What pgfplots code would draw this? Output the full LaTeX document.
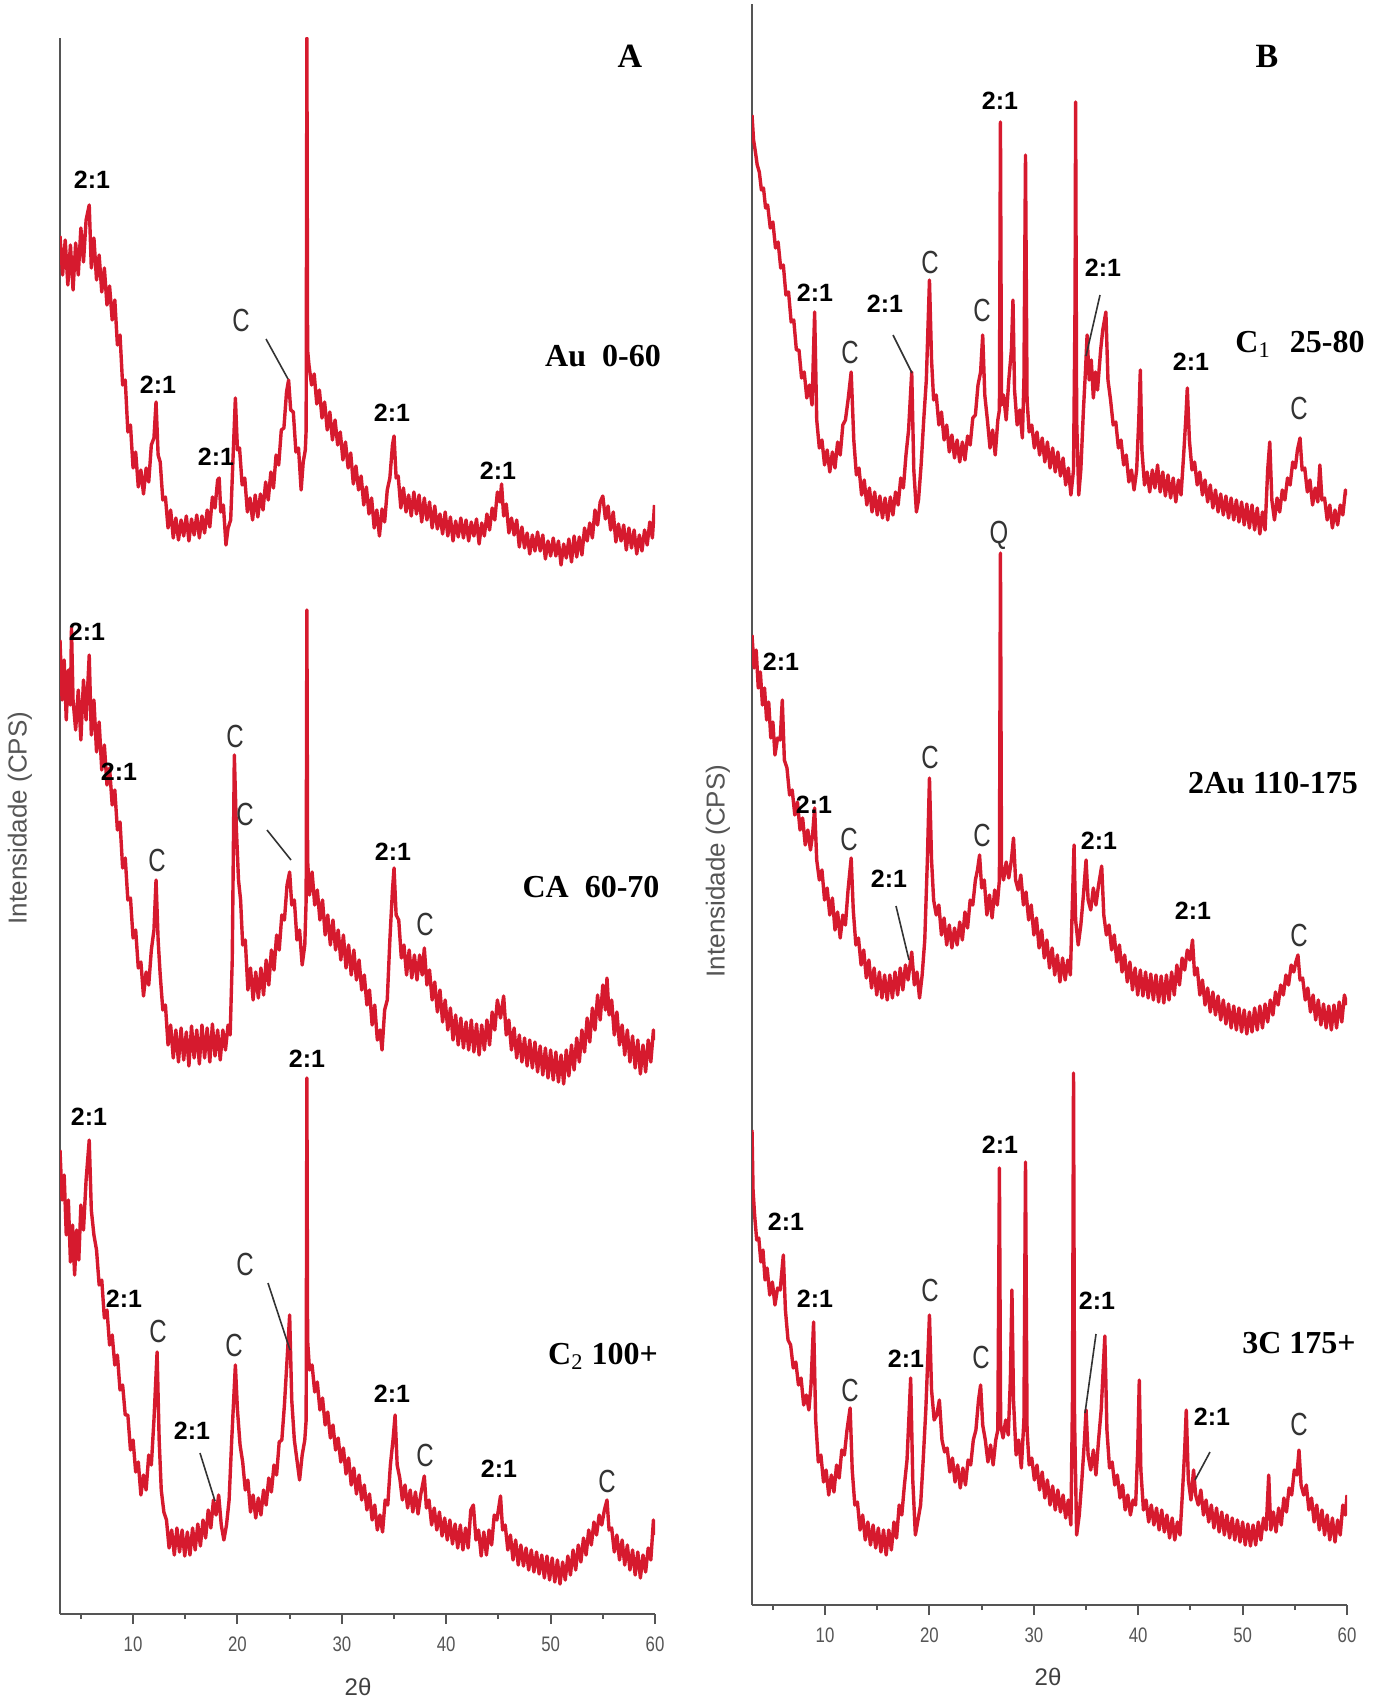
\documentclass[border=0pt]{standalone}
\usepackage{fontspec}
\setmainfont{Liberation Sans}
\newfontfamily\tnr{Liberation Serif}
\usepackage{pgfplots}
\pgfplotsset{compat=1.18}

\definecolor{xrd}{RGB}{214,26,46}
\definecolor{axgray}{RGB}{85,85,85}

\pgfplotsset{
  xrdaxis/.style={
    scale only axis, width=297.5pt,
    xmin=3, xmax=60,
    axis x line=bottom, axis y line=left,
    axis line style={-, draw=axgray, line width=1.2pt},
    xtick={10,20,...,60}, minor xtick={5,15,...,55},
    ytick=\empty,
    tick align=outside,
    major tick length=5pt, minor tick length=2.5pt,
    every tick/.style={draw=axgray, line width=1pt},
    /pgf/number format/assume math mode=true,
    xticklabel style={font=\fontsize{10.5}{12}\selectfont, text=axgray, xscale=0.8, yshift=-3pt},
  },
  trace/.style={draw=xrd, line width=1.7pt, line join=round, mark=none},
}

\tikzset{
  lab/.style={font=\bfseries\fontsize{12.5}{14}\selectfont, inner sep=0pt},
  cl/.style={font=\fontsize{16}{18}\selectfont, text=black!80, xscale=0.75, inner sep=0pt},
  smp/.style={font=\tnr\bfseries\fontsize{16}{18}\selectfont, inner sep=0pt},
  ldr/.style={draw=black!80, line width=0.8pt},
}

\begin{document}
\begin{tikzpicture}
\useasboundingbox (0,0) rectangle (690.5pt,-850.5pt);

% ---------- panel A ----------
\begin{axis}[xrdaxis, at={(30pt,-807pt)}, anchor=south west,
  height=788pt, ymin=-1614, ymax=-38]
% Au 0-60
\addplot[trace] coordinates {
(3.00,-236)(3.25,-275)(3.50,-240)(3.75,-285)(4.00,-245)(4.25,-290)(4.50,-243)(4.75,-275)(5.00,-228)(5.25,-262)(5.50,-220)(5.80,-205)(6.00,-268)(6.25,-238)(6.50,-280)(6.75,-255)(7.00,-292)(7.25,-268)(7.50,-305)(7.75,-286)(8.00,-320)(8.25,-300)(8.50,-345)(8.75,-335)(9.00,-385)(9.25,-380)(9.50,-432)(9.75,-425)(10.00,-468)(10.25,-452)(10.50,-487)(10.75,-470)(11.00,-494)(11.25,-468)(11.50,-482)(11.75,-445)(12.00,-438)(12.20,-402)(12.40,-455)(12.60,-462)(12.85,-500)(13.10,-497)(13.35,-528)(13.60,-510)(13.85,-538)(14.10,-518)(14.35,-540)(14.60,-520)(14.85,-536)(15.10,-516)(15.35,-541)(15.60,-519)(15.85,-535)(16.10,-515)(16.35,-538)(16.60,-516)(16.85,-533)(17.10,-510)(17.35,-527)(17.60,-497)(17.85,-508)(18.10,-480)(18.25,-478)(18.40,-512)(18.65,-505)(18.90,-545)(19.10,-528)(19.35,-520)(19.55,-465)(19.80,-398)(20.00,-450)(20.20,-448)(20.45,-485)(20.70,-478)(20.95,-512)(21.20,-498)(21.45,-520)(21.70,-495)(21.95,-517)(22.20,-494)(22.45,-510)(22.70,-482)(22.95,-500)(23.20,-472)(23.45,-488)(23.70,-455)(23.95,-465)(24.20,-430)(24.45,-428)(24.70,-392)(24.90,-380)(25.10,-410)(25.35,-412)(25.60,-452)(25.85,-448)(26.10,-490)(26.30,-462)(26.50,-450)(26.58,-430)(26.65,-38)(26.72,-350)(26.85,-365)(27.10,-385)(27.35,-374)(27.60,-404)(27.85,-390)(28.10,-418)(28.35,-402)(28.60,-430)(28.85,-412)(29.10,-440)(29.35,-420)(29.60,-445)(29.85,-432)(30.10,-460)(30.35,-442)(30.60,-468)(30.85,-453)(31.10,-484)(31.35,-466)(31.60,-490)(31.85,-476)(32.10,-505)(32.35,-487)(32.60,-514)(32.85,-498)(33.10,-528)(33.35,-510)(33.60,-536)(33.85,-509)(34.10,-522)(34.35,-490)(34.60,-478)(34.85,-445)(35.00,-436)(35.20,-478)(35.40,-476)(35.65,-508)(35.90,-488)(36.15,-512)(36.40,-495)(36.65,-516)(36.90,-492)(37.15,-514)(37.40,-495)(37.65,-522)(37.90,-498)(38.15,-520)(38.40,-502)(38.65,-528)(38.90,-506)(39.15,-529)(39.40,-514)(39.65,-534)(39.90,-512)(40.15,-536)(40.40,-517)(40.65,-541)(40.90,-521)(41.15,-537)(41.40,-518)(41.65,-538)(41.90,-520)(42.15,-541)(42.40,-522)(42.65,-536)(42.90,-519)(43.15,-544)(43.40,-523)(43.65,-536)(43.90,-514)(44.15,-530)(44.40,-508)(44.65,-520)(44.90,-492)(45.15,-502)(45.30,-484)(45.50,-516)(45.75,-504)(46.00,-533)(46.25,-518)(46.50,-535)(46.75,-520)(47.00,-547)(47.25,-527)(47.50,-548)(47.75,-533)(48.00,-554)(48.25,-535)(48.50,-551)(48.75,-532)(49.00,-551)(49.25,-535)(49.50,-559)(49.75,-541)(50.00,-556)(50.25,-538)(50.50,-556)(50.75,-541)(51.00,-565)(51.25,-544)(51.50,-558)(51.75,-539)(52.00,-562)(52.25,-536)(52.50,-557)(52.75,-537)(53.00,-555)(53.25,-528)(53.50,-541)(53.75,-523)(54.00,-538)(54.25,-510)(54.50,-525)(54.75,-502)(55.00,-496)(55.25,-519)(55.50,-506)(55.75,-530)(56.00,-512)(56.25,-542)(56.50,-524)(56.75,-541)(57.00,-525)(57.25,-550)(57.50,-528)(57.75,-548)(58.00,-530)(58.25,-554)(58.50,-535)(58.75,-551)(59.00,-530)(59.25,-545)(59.50,-522)(59.75,-538)(59.95,-505)
};
% CA 60-70
\addplot[trace] coordinates {
(3.00,-640)(3.20,-700)(3.40,-660)(3.60,-720)(3.80,-670)(4.00,-705)(4.10,-628)(4.25,-700)(4.50,-730)(4.75,-690)(5.00,-740)(5.25,-680)(5.50,-720)(5.80,-655)(6.00,-735)(6.25,-700)(6.50,-752)(6.75,-722)(7.00,-770)(7.25,-745)(7.50,-785)(7.75,-768)(8.00,-805)(8.25,-790)(8.50,-830)(8.75,-822)(9.00,-868)(9.25,-858)(9.50,-900)(9.75,-898)(10.00,-938)(10.25,-930)(10.50,-968)(10.75,-962)(11.00,-996)(11.25,-972)(11.50,-985)(11.75,-950)(12.00,-930)(12.20,-880)(12.40,-940)(12.60,-975)(12.85,-1010)(13.10,-1005)(13.35,-1045)(13.60,-1025)(13.85,-1058)(14.10,-1030)(14.35,-1062)(14.60,-1028)(14.85,-1060)(15.10,-1032)(15.35,-1066)(15.60,-1026)(15.85,-1058)(16.10,-1030)(16.35,-1064)(16.60,-1025)(16.85,-1058)(17.10,-1028)(17.35,-1062)(17.60,-1024)(17.85,-1056)(18.10,-1030)(18.35,-1060)(18.60,-1030)(18.85,-1050)(19.10,-1025)(19.30,-1035)(19.50,-960)(19.70,-755)(19.90,-830)(20.10,-880)(20.30,-900)(20.50,-945)(20.75,-940)(21.00,-990)(21.25,-968)(21.50,-1000)(21.75,-972)(22.00,-998)(22.25,-968)(22.50,-995)(22.75,-960)(23.00,-985)(23.25,-950)(23.50,-970)(23.75,-935)(24.00,-950)(24.25,-915)(24.50,-920)(24.75,-885)(25.00,-872)(25.20,-905)(25.45,-900)(25.70,-940)(25.95,-930)(26.20,-965)(26.45,-945)(26.58,-900)(26.65,-610)(26.72,-860)(26.90,-895)(27.15,-872)(27.40,-905)(27.65,-890)(27.90,-920)(28.15,-900)(28.40,-935)(28.65,-915)(28.90,-945)(29.15,-920)(29.40,-950)(29.65,-930)(29.90,-960)(30.15,-935)(30.40,-968)(30.65,-945)(30.90,-975)(31.15,-950)(31.40,-980)(31.65,-960)(31.90,-990)(32.15,-975)(32.40,-1005)(32.65,-990)(32.90,-1025)(33.15,-1005)(33.40,-1040)(33.65,-1030)(33.85,-1050)(34.10,-1010)(34.35,-1000)(34.60,-940)(34.85,-890)(35.00,-868)(35.20,-915)(35.45,-920)(35.70,-958)(35.95,-945)(36.20,-975)(36.45,-950)(36.70,-978)(36.95,-955)(37.20,-980)(37.45,-955)(37.70,-975)(37.90,-948)(38.15,-985)(38.40,-970)(38.65,-1000)(38.90,-982)(39.15,-1012)(39.40,-990)(39.65,-1022)(39.90,-1000)(40.15,-1030)(40.40,-1008)(40.65,-1040)(40.90,-1015)(41.15,-1045)(41.40,-1018)(41.65,-1048)(41.90,-1022)(42.15,-1050)(42.40,-1020)(42.65,-1052)(42.90,-1024)(43.15,-1055)(43.40,-1025)(43.65,-1050)(43.90,-1020)(44.15,-1045)(44.40,-1012)(44.65,-1030)(44.90,-1000)(45.20,-1018)(45.50,-996)(45.75,-1035)(46.00,-1020)(46.25,-1050)(46.50,-1028)(46.75,-1058)(47.00,-1035)(47.25,-1062)(47.50,-1038)(47.75,-1066)(48.00,-1040)(48.25,-1068)(48.50,-1042)(48.75,-1072)(49.00,-1046)(49.25,-1075)(49.50,-1048)(49.75,-1078)(50.00,-1050)(50.25,-1080)(50.50,-1052)(50.75,-1082)(51.00,-1055)(51.25,-1084)(51.50,-1050)(51.75,-1076)(52.00,-1045)(52.25,-1070)(52.50,-1038)(52.75,-1062)(53.00,-1030)(53.25,-1052)(53.50,-1018)(53.75,-1042)(54.00,-1008)(54.25,-1030)(54.50,-995)(54.75,-1020)(55.00,-985)(55.25,-1010)(55.40,-978)(55.60,-1015)(55.85,-1000)(56.10,-1035)(56.35,-1012)(56.60,-1045)(56.85,-1025)(57.10,-1055)(57.35,-1030)(57.60,-1062)(57.85,-1036)(58.10,-1068)(58.35,-1040)(58.60,-1074)(58.85,-1045)(59.10,-1072)(59.35,-1040)(59.60,-1062)(59.85,-1030)(59.95,-1040)
};
% C2 100+
\addplot[trace] coordinates {
(3.00,-1150)(3.20,-1200)(3.40,-1175)(3.60,-1235)(3.80,-1200)(4.00,-1262)(4.20,-1225)(4.40,-1275)(4.60,-1230)(4.80,-1260)(5.00,-1205)(5.25,-1230)(5.50,-1180)(5.80,-1140)(6.00,-1210)(6.25,-1235)(6.50,-1250)(6.75,-1285)(7.00,-1280)(7.25,-1318)(7.50,-1310)(7.75,-1345)(8.00,-1335)(8.25,-1365)(8.50,-1355)(8.75,-1390)(9.00,-1385)(9.25,-1415)(9.50,-1415)(9.75,-1450)(10.00,-1440)(10.25,-1472)(10.50,-1462)(10.75,-1495)(11.00,-1475)(11.25,-1490)(11.50,-1455)(11.75,-1465)(12.00,-1420)(12.30,-1352)(12.50,-1440)(12.70,-1490)(12.95,-1512)(13.20,-1520)(13.45,-1548)(13.70,-1530)(13.95,-1555)(14.20,-1528)(14.45,-1552)(14.70,-1530)(14.95,-1556)(15.20,-1532)(15.45,-1555)(15.70,-1528)(15.95,-1550)(16.20,-1524)(16.45,-1546)(16.70,-1520)(16.95,-1538)(17.20,-1510)(17.45,-1528)(17.70,-1500)(17.95,-1515)(18.20,-1495)(18.45,-1525)(18.70,-1540)(18.95,-1525)(19.20,-1500)(19.45,-1440)(19.80,-1365)(20.00,-1410)(20.25,-1445)(20.50,-1462)(20.75,-1490)(21.00,-1480)(21.25,-1512)(21.50,-1495)(21.75,-1518)(22.00,-1498)(22.25,-1515)(22.50,-1490)(22.75,-1505)(23.00,-1478)(23.25,-1492)(23.50,-1465)(23.75,-1475)(24.00,-1442)(24.25,-1440)(24.50,-1405)(24.75,-1360)(25.00,-1315)(25.20,-1400)(25.45,-1440)(25.70,-1460)(25.95,-1480)(26.20,-1455)(26.45,-1440)(26.58,-1420)(26.65,-1078)(26.72,-1340)(26.90,-1370)(27.15,-1365)(27.40,-1392)(27.65,-1382)(27.90,-1410)(28.15,-1398)(28.40,-1425)(28.65,-1412)(28.90,-1438)(29.15,-1425)(29.40,-1450)(29.65,-1438)(29.90,-1462)(30.15,-1448)(30.40,-1474)(30.65,-1458)(30.90,-1485)(31.15,-1468)(31.40,-1494)(31.65,-1475)(31.90,-1500)(32.15,-1485)(32.40,-1510)(32.65,-1494)(32.90,-1520)(33.15,-1505)(33.40,-1530)(33.65,-1515)(33.90,-1532)(34.15,-1500)(34.40,-1505)(34.65,-1465)(34.90,-1440)(35.10,-1415)(35.30,-1465)(35.55,-1478)(35.80,-1500)(36.05,-1485)(36.30,-1508)(36.55,-1490)(36.80,-1512)(37.05,-1492)(37.30,-1514)(37.55,-1495)(37.90,-1476)(38.10,-1508)(38.35,-1500)(38.60,-1525)(38.85,-1508)(39.10,-1530)(39.35,-1512)(39.60,-1536)(39.85,-1518)(40.10,-1540)(40.35,-1520)(40.60,-1544)(40.85,-1524)(41.10,-1548)(41.35,-1525)(41.60,-1550)(41.85,-1528)(42.10,-1548)(42.35,-1510)(42.60,-1505)(42.85,-1540)(43.10,-1530)(43.35,-1556)(43.60,-1532)(43.85,-1555)(44.10,-1530)(44.35,-1545)(44.60,-1515)(44.85,-1520)(45.20,-1496)(45.40,-1530)(45.65,-1525)(45.90,-1550)(46.15,-1535)(46.40,-1560)(46.65,-1540)(46.90,-1565)(47.15,-1545)(47.40,-1566)(47.65,-1548)(47.90,-1570)(48.15,-1550)(48.40,-1572)(48.65,-1552)(48.90,-1574)(49.15,-1555)(49.40,-1578)(49.65,-1556)(49.90,-1580)(50.15,-1558)(50.40,-1582)(50.65,-1560)(50.90,-1584)(51.15,-1562)(51.40,-1580)(51.65,-1556)(51.90,-1575)(52.15,-1550)(52.40,-1570)(52.65,-1545)(52.90,-1562)(53.15,-1538)(53.40,-1555)(53.65,-1530)(53.90,-1545)(54.15,-1522)(54.40,-1535)(54.65,-1515)(54.90,-1525)(55.15,-1510)(55.40,-1500)(55.60,-1530)(55.85,-1528)(56.10,-1552)(56.35,-1535)(56.60,-1560)(56.85,-1540)(57.10,-1565)(57.35,-1545)(57.60,-1570)(57.85,-1550)(58.10,-1575)(58.35,-1552)(58.60,-1578)(58.85,-1555)(59.10,-1572)(59.35,-1548)(59.60,-1560)(59.85,-1520)(59.95,-1535)
};
\end{axis}

% ---------- panel B ----------
\begin{axis}[xrdaxis, at={(376pt,-802.5pt)}, anchor=south west,
  height=800.5pt, ymin=-1605, ymax=-4]
% C1 25-80
\addplot[trace] coordinates {
(3.00,-115)(3.15,-140)(3.30,-150)(3.50,-165)(3.70,-172)(3.90,-190)(4.10,-188)(4.30,-208)(4.50,-205)(4.75,-228)(5.00,-222)(5.25,-248)(5.50,-242)(5.75,-268)(6.00,-265)(6.25,-295)(6.50,-292)(6.75,-322)(7.00,-320)(7.25,-350)(7.50,-350)(7.75,-378)(8.00,-372)(8.25,-398)(8.50,-385)(8.75,-405)(9.00,-312)(9.20,-420)(9.45,-448)(9.70,-440)(9.95,-465)(10.20,-450)(10.45,-472)(10.70,-452)(10.95,-468)(11.20,-442)(11.45,-455)(11.70,-425)(11.95,-420)(12.20,-400)(12.50,-372)(12.75,-440)(13.00,-475)(13.25,-468)(13.50,-495)(13.75,-480)(14.00,-505)(14.25,-488)(14.50,-512)(14.75,-492)(15.00,-515)(15.25,-496)(15.50,-518)(15.75,-498)(16.00,-520)(16.25,-497)(16.50,-515)(16.75,-492)(17.00,-505)(17.25,-478)(17.50,-488)(17.75,-455)(18.00,-430)(18.30,-372)(18.50,-470)(18.75,-512)(18.95,-500)(19.20,-465)(19.45,-420)(19.70,-380)(20.00,-280)(20.20,-360)(20.40,-400)(20.65,-395)(20.90,-425)(21.15,-412)(21.40,-440)(21.65,-425)(21.90,-452)(22.15,-435)(22.40,-458)(22.65,-440)(22.90,-462)(23.15,-442)(23.40,-460)(23.65,-436)(23.90,-445)(24.15,-418)(24.40,-415)(24.65,-385)(24.90,-372)(25.10,-335)(25.30,-395)(25.55,-420)(25.80,-448)(26.05,-430)(26.30,-455)(26.55,-420)(26.70,-410)(26.80,-122)(26.90,-405)(27.10,-395)(27.35,-420)(27.60,-380)(27.85,-350)(28.00,-300)(28.15,-390)(28.40,-425)(28.65,-410)(28.90,-438)(29.05,-380)(29.20,-155)(29.35,-400)(29.55,-432)(29.80,-425)(30.05,-448)(30.30,-432)(30.55,-455)(30.80,-438)(31.05,-462)(31.30,-442)(31.55,-468)(31.80,-448)(32.05,-472)(32.30,-452)(32.55,-476)(32.80,-458)(33.05,-485)(33.30,-468)(33.55,-495)(33.80,-470)(33.95,-300)(34.00,-102)(34.10,-420)(34.30,-495)(34.50,-470)(34.75,-410)(34.95,-370)(35.10,-335)(35.30,-380)(35.50,-360)(35.70,-398)(35.90,-372)(36.10,-390)(36.40,-350)(36.60,-330)(36.90,-312)(37.10,-380)(37.35,-400)(37.60,-425)(37.85,-422)(38.10,-448)(38.35,-440)(38.60,-465)(38.85,-455)(39.10,-482)(39.35,-470)(39.60,-490)(39.85,-470)(40.05,-420)(40.20,-370)(40.35,-450)(40.60,-485)(40.85,-472)(41.10,-492)(41.35,-470)(41.60,-488)(41.85,-465)(42.10,-492)(42.35,-472)(42.60,-496)(42.85,-475)(43.10,-498)(43.35,-478)(43.60,-502)(43.85,-480)(44.10,-495)(44.35,-455)(44.55,-420)(44.70,-388)(44.90,-440)(45.15,-470)(45.40,-462)(45.65,-485)(45.90,-472)(46.15,-495)(46.40,-480)(46.65,-502)(46.90,-485)(47.15,-508)(47.40,-490)(47.65,-512)(47.90,-494)(48.15,-515)(48.40,-496)(48.65,-518)(48.90,-498)(49.15,-520)(49.40,-500)(49.65,-522)(49.90,-502)(50.15,-525)(50.40,-504)(50.65,-528)(50.90,-505)(51.15,-530)(51.40,-508)(51.65,-534)(51.90,-512)(52.15,-530)(52.40,-470)(52.60,-442)(52.80,-500)(53.05,-520)(53.30,-498)(53.55,-512)(53.80,-490)(54.05,-500)(54.30,-478)(54.55,-485)(54.80,-462)(55.05,-468)(55.25,-450)(55.50,-438)(55.70,-470)(55.95,-468)(56.20,-492)(56.45,-480)(56.70,-505)(56.95,-488)(57.20,-502)(57.40,-465)(57.60,-500)(57.85,-498)(58.10,-520)(58.35,-505)(58.60,-528)(58.85,-510)(59.10,-525)(59.35,-505)(59.60,-515)(59.85,-490)(60.00,-495)
};
% 2Au 110-175
\addplot[trace] coordinates {
(3.00,-635)(3.20,-668)(3.40,-650)(3.60,-688)(3.80,-672)(4.00,-705)(4.20,-688)(4.40,-720)(4.60,-702)(4.80,-738)(5.00,-722)(5.20,-755)(5.45,-738)(5.70,-740)(5.90,-700)(6.10,-760)(6.35,-768)(6.60,-795)(6.85,-790)(7.10,-815)(7.35,-802)(7.60,-830)(7.85,-818)(8.10,-845)(8.35,-830)(8.60,-850)(8.80,-835)(9.00,-808)(9.20,-860)(9.45,-880)(9.70,-870)(9.95,-900)(10.20,-888)(10.45,-915)(10.70,-898)(10.95,-930)(11.20,-912)(11.45,-938)(11.70,-915)(11.95,-925)(12.20,-890)(12.50,-858)(12.70,-910)(12.95,-945)(13.20,-938)(13.45,-965)(13.70,-950)(13.95,-978)(14.20,-960)(14.45,-988)(14.70,-968)(14.95,-995)(15.20,-972)(15.45,-998)(15.70,-975)(15.95,-1000)(16.20,-975)(16.45,-998)(16.70,-972)(16.95,-995)(17.20,-968)(17.45,-990)(17.70,-965)(17.95,-980)(18.30,-952)(18.55,-985)(18.80,-972)(19.05,-998)(19.30,-975)(19.55,-940)(19.80,-860)(20.00,-778)(20.20,-860)(20.40,-900)(20.65,-915)(20.90,-905)(21.15,-935)(21.40,-918)(21.65,-945)(21.90,-925)(22.15,-948)(22.40,-928)(22.65,-945)(22.90,-922)(23.15,-940)(23.40,-912)(23.65,-928)(23.90,-900)(24.15,-905)(24.40,-880)(24.60,-870)(24.80,-855)(25.00,-888)(25.25,-880)(25.50,-915)(25.75,-895)(26.00,-918)(26.25,-890)(26.50,-905)(26.70,-880)(26.80,-553)(26.90,-865)(27.10,-880)(27.35,-862)(27.60,-878)(27.85,-860)(28.05,-838)(28.25,-880)(28.50,-890)(28.75,-875)(29.00,-905)(29.25,-892)(29.50,-920)(29.75,-905)(30.00,-935)(30.25,-918)(30.50,-948)(30.75,-930)(31.00,-958)(31.25,-940)(31.50,-968)(31.75,-948)(32.00,-975)(32.25,-955)(32.50,-982)(32.75,-958)(33.00,-980)(33.25,-960)(33.50,-975)(33.70,-900)(33.85,-845)(34.00,-920)(34.25,-945)(34.50,-925)(34.75,-895)(35.00,-860)(35.20,-900)(35.45,-910)(35.70,-888)(35.95,-905)(36.20,-885)(36.50,-866)(36.70,-915)(36.95,-935)(37.20,-925)(37.45,-950)(37.70,-935)(37.95,-962)(38.20,-945)(38.45,-972)(38.70,-955)(38.95,-982)(39.20,-962)(39.45,-990)(39.70,-968)(39.95,-995)(40.20,-970)(40.45,-996)(40.70,-972)(40.95,-998)(41.20,-974)(41.45,-1000)(41.70,-975)(41.95,-1002)(42.20,-976)(42.45,-1003)(42.70,-975)(42.95,-1000)(43.20,-972)(43.45,-995)(43.70,-965)(43.95,-985)(44.20,-958)(44.45,-970)(44.70,-950)(44.95,-960)(45.20,-940)(45.40,-975)(45.65,-968)(45.90,-995)(46.15,-980)(46.40,-1005)(46.65,-988)(46.90,-1012)(47.15,-992)(47.40,-1015)(47.65,-996)(47.90,-1020)(48.15,-1000)(48.40,-1024)(48.65,-1004)(48.90,-1028)(49.15,-1006)(49.40,-1030)(49.65,-1008)(49.90,-1032)(50.15,-1010)(50.40,-1034)(50.65,-1012)(50.90,-1032)(51.15,-1008)(51.40,-1030)(51.65,-1006)(51.90,-1028)(52.15,-1004)(52.40,-1022)(52.65,-1000)(52.90,-1015)(53.15,-992)(53.40,-1005)(53.65,-985)(53.90,-995)(54.15,-975)(54.40,-985)(54.65,-965)(54.90,-972)(55.10,-962)(55.30,-955)(55.50,-980)(55.75,-978)(56.00,-1000)(56.25,-988)(56.50,-1012)(56.75,-995)(57.00,-1020)(57.25,-1000)(57.50,-1025)(57.75,-1004)(58.00,-1028)(58.25,-1006)(58.50,-1030)(58.75,-1005)(59.00,-1028)(59.25,-1002)(59.50,-1022)(59.75,-995)(60.00,-1005)
};
% 3C 175+
\addplot[trace] coordinates {
(3.00,-1130)(3.10,-1190)(3.25,-1215)(3.45,-1240)(3.65,-1238)(3.85,-1262)(4.05,-1250)(4.25,-1280)(4.45,-1268)(4.70,-1295)(4.95,-1282)(5.20,-1305)(5.45,-1288)(5.70,-1290)(6.00,-1255)(6.20,-1310)(6.45,-1340)(6.70,-1345)(6.95,-1368)(7.20,-1362)(7.45,-1385)(7.70,-1378)(7.95,-1405)(8.20,-1395)(8.45,-1410)(8.65,-1385)(8.90,-1322)(9.10,-1420)(9.35,-1462)(9.60,-1455)(9.85,-1482)(10.10,-1470)(10.35,-1495)(10.60,-1475)(10.85,-1492)(11.10,-1465)(11.35,-1478)(11.60,-1450)(11.85,-1455)(12.10,-1430)(12.40,-1408)(12.60,-1470)(12.85,-1505)(13.10,-1502)(13.35,-1530)(13.60,-1515)(13.85,-1540)(14.10,-1522)(14.35,-1545)(14.60,-1525)(14.85,-1548)(15.10,-1528)(15.35,-1552)(15.60,-1530)(15.85,-1555)(16.10,-1530)(16.35,-1550)(16.60,-1522)(16.85,-1538)(17.10,-1505)(17.35,-1515)(17.60,-1485)(17.85,-1460)(18.20,-1378)(18.40,-1480)(18.65,-1535)(18.90,-1520)(19.15,-1505)(19.40,-1460)(19.65,-1410)(20.00,-1315)(20.20,-1390)(20.45,-1420)(20.70,-1415)(20.95,-1400)(21.20,-1440)(21.45,-1452)(21.70,-1448)(21.95,-1472)(22.20,-1458)(22.45,-1482)(22.70,-1465)(22.95,-1488)(23.20,-1468)(23.45,-1485)(23.70,-1460)(23.95,-1465)(24.20,-1440)(24.45,-1430)(24.70,-1400)(24.90,-1385)(25.10,-1425)(25.35,-1440)(25.60,-1462)(25.85,-1445)(26.10,-1465)(26.35,-1440)(26.55,-1430)(26.70,-1168)(26.82,-1425)(27.05,-1438)(27.30,-1420)(27.55,-1435)(27.75,-1380)(27.90,-1290)(28.05,-1400)(28.30,-1455)(28.55,-1440)(28.80,-1468)(29.05,-1420)(29.20,-1162)(29.35,-1430)(29.55,-1465)(29.80,-1458)(30.05,-1480)(30.30,-1465)(30.55,-1490)(30.80,-1472)(31.05,-1498)(31.30,-1480)(31.55,-1505)(31.80,-1486)(32.05,-1510)(32.30,-1490)(32.55,-1512)(32.80,-1495)(33.05,-1518)(33.30,-1500)(33.55,-1525)(33.70,-1400)(33.80,-1073)(33.90,-1420)(34.10,-1535)(34.35,-1515)(34.60,-1480)(34.85,-1440)(35.00,-1410)(35.20,-1455)(35.45,-1470)(35.70,-1450)(35.95,-1475)(36.20,-1440)(36.45,-1410)(36.80,-1336)(37.00,-1430)(37.25,-1468)(37.50,-1462)(37.75,-1485)(38.00,-1475)(38.25,-1498)(38.50,-1485)(38.75,-1510)(39.00,-1495)(39.25,-1515)(39.50,-1500)(39.75,-1505)(39.95,-1450)(40.10,-1380)(40.25,-1470)(40.50,-1510)(40.75,-1500)(41.00,-1522)(41.25,-1505)(41.50,-1525)(41.75,-1508)(42.00,-1530)(42.25,-1510)(42.50,-1532)(42.75,-1515)(43.00,-1538)(43.25,-1518)(43.50,-1540)(43.75,-1522)(44.00,-1535)(44.25,-1490)(44.45,-1450)(44.60,-1410)(44.80,-1480)(45.05,-1500)(45.30,-1470)(45.50,-1495)(45.75,-1505)(46.00,-1490)(46.25,-1515)(46.50,-1500)(46.75,-1522)(47.00,-1505)(47.25,-1528)(47.50,-1508)(47.75,-1532)(48.00,-1512)(48.25,-1535)(48.50,-1515)(48.75,-1538)(49.00,-1518)(49.25,-1540)(49.50,-1520)(49.75,-1542)(50.00,-1522)(50.25,-1545)(50.50,-1524)(50.75,-1546)(51.00,-1525)(51.25,-1545)(51.50,-1522)(51.75,-1540)(52.00,-1518)(52.25,-1530)(52.50,-1475)(52.70,-1530)(52.95,-1512)(53.20,-1532)(53.45,-1508)(53.70,-1525)(53.95,-1498)(54.20,-1512)(54.45,-1488)(54.70,-1495)(54.95,-1470)(55.20,-1475)(55.40,-1450)(55.60,-1485)(55.85,-1495)(56.10,-1485)(56.35,-1510)(56.60,-1498)(56.85,-1522)(57.10,-1505)(57.35,-1530)(57.60,-1510)(57.85,-1535)(58.10,-1515)(58.35,-1540)(58.60,-1518)(58.85,-1542)(59.10,-1520)(59.35,-1535)(59.60,-1505)(59.85,-1515)(60.00,-1495)
};
\end{axis}

% ---------- annotations (pixel grid of the reference) ----------
\begin{scope}[x=0.5pt, y=-0.5pt]
\node[rotate=90, font=\fontsize{13}{15}\selectfont, text=axgray] at (20,818) {Intensidade (CPS)};
\node[rotate=90, font=\fontsize{13}{15}\selectfont, text=axgray] at (718,871) {Intensidade (CPS)};
\node[font=\fontsize{12}{14}\selectfont, text=black!75] at (358,1687) {2θ};
\node[font=\fontsize{12}{14}\selectfont, text=black!75] at (1048,1677) {2θ};

\node[font=\tnr\bfseries\fontsize{17}{19}\selectfont] at (630,56) {A};
\node[font=\tnr\bfseries\fontsize{17}{19}\selectfont] at (1267,56) {B};

% A: Au 0-60
\node[lab] at (92,180) {2:1};
\node[lab] at (158,385) {2:1};
\node[lab] at (216,457) {2:1};
\node[cl] at (241,320) {C};
\draw[ldr] (266,339) -- (288,379);
\node[lab] at (392,413) {2:1};
\node[lab] at (498,471) {2:1};
\node[smp] at (603,356) {Au\hspace{0.5em}0-60};
% A: CA 60-70
\node[lab] at (87,632) {2:1};
\node[lab] at (119,772) {2:1};
\node[cl] at (157,860) {C};
\node[cl] at (235,736) {C};
\node[cl] at (245,814) {C};
\draw[ldr] (267,830) -- (291,860);
\node[lab] at (393,852) {2:1};
\node[cl] at (425,924) {C};
\node[smp] at (591,887) {CA\hspace{0.5em}60-70};
% A: C2 100+
\node[lab] at (307,1059) {2:1};
\node[lab] at (89,1117) {2:1};
\node[lab] at (124,1299) {2:1};
\node[cl] at (158,1331) {C};
\node[lab] at (192,1431) {2:1};
\draw[ldr] (200,1453) -- (215,1501);
\node[cl] at (234,1345) {C};
\node[cl] at (245,1264) {C};
\draw[ldr] (268,1283) -- (290,1350);
\node[lab] at (392,1394) {2:1};
\node[cl] at (425,1455) {C};
\node[lab] at (499,1469) {2:1};
\node[cl] at (607,1481) {C};
\node[smp] at (603,1356) {C\textsubscript{\mdseries 2} 100+};

% B: C1 25-80
\node[lab] at (1000,101) {2:1};
\node[lab] at (815,293) {2:1};
\node[cl] at (850,352) {C};
\node[lab] at (885,304) {2:1};
\draw[ldr] (893,335) -- (912,373);
\node[cl] at (930,262) {C};
\node[cl] at (982,310) {C};
\node[lab] at (1103,268) {2:1};
\draw[ldr] (1100,295) -- (1086,356);
\node[lab] at (1191,362) {2:1};
\node[cl] at (1299,408) {C};
\node[smp] at (1300,344) {C\textsubscript{\mdseries 1}\hspace{0.6em}25-80};
% B: 2Au 110-175
\node[cl] at (999,535) {Q};
\node[lab] at (781,662) {2:1};
\node[lab] at (814,805) {2:1};
\node[cl] at (849,839) {C};
\node[lab] at (889,879) {2:1};
\draw[ldr] (896,906) -- (909,960);
\node[cl] at (930,757) {C};
\node[cl] at (982,835) {C};
\node[lab] at (1099,841) {2:1};
\node[lab] at (1193,911) {2:1};
\node[cl] at (1299,935) {C};
\node[smp] at (1273,783) {2Au 110-175};
% B: 3C 175+
\node[lab] at (1000,1145) {2:1};
\node[lab] at (786,1222) {2:1};
\node[lab] at (815,1299) {2:1};
\node[cl] at (850,1390) {C};
\node[lab] at (906,1359) {2:1};
\node[cl] at (930,1290) {C};
\node[cl] at (981,1357) {C};
\node[lab] at (1097,1301) {2:1};
\draw[ldr] (1096,1334) -- (1085,1413);
\node[lab] at (1212,1417) {2:1};
\draw[ldr] (1210,1452) -- (1195,1480);
\node[cl] at (1299,1424) {C};
\node[smp] at (1299,1343) {3C 175+};
\end{scope}
\end{tikzpicture}
\end{document}
